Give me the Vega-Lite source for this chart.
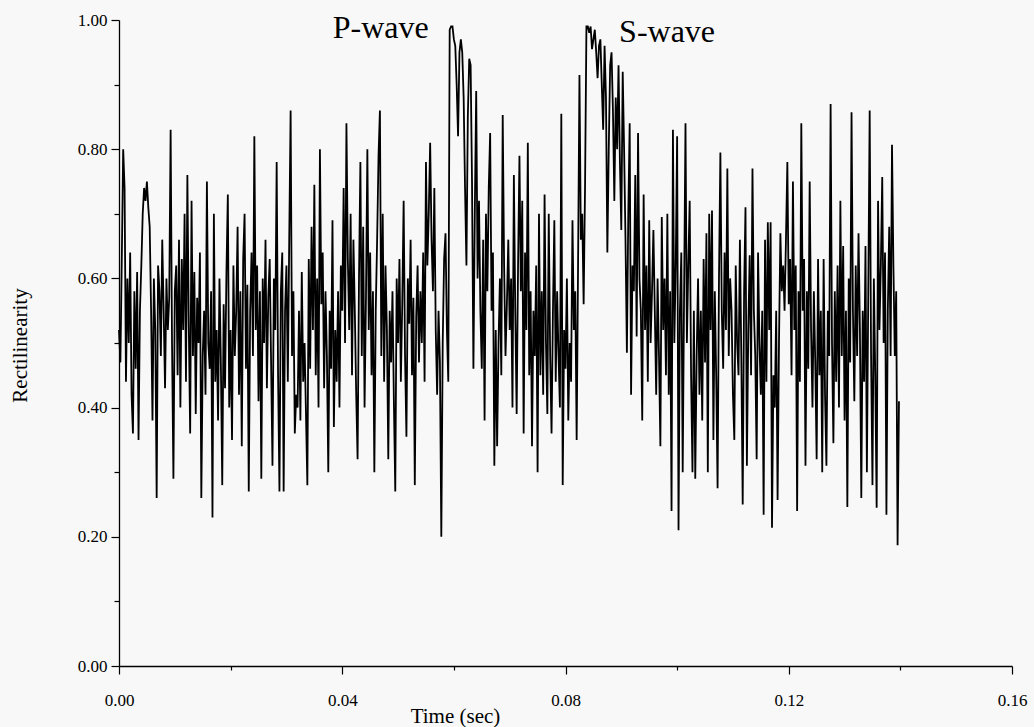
{
"$schema": "https://vega.github.io/schema/vega-lite/v6.json",
"width": 893, "height": 646,
"autosize": {"type": "none"},
"padding": {"left": 119, "top": 20, "right": 22, "bottom": 61},
"background": "#f7f8f7",
"config": {"view": {"stroke": null}, "font": "Liberation Serif",
 "axis": {"grid": false, "domainColor": "#000", "tickColor": "#000", "labelColor": "#000", "titleColor": "#000", "labelFont": "Liberation Serif", "titleFont": "Liberation Serif", "titleFontWeight": "normal", "domainWidth": 1.3, "tickWidth": 1.2}},
"layer": [
{"data": {"values": [
{"t":0,"r":0.52},{"t":0.00025,"r":0.47},{"t":0.0005,"r":0.63},{"t":0.00075,"r":0.8},
{"t":0.001,"r":0.74},{"t":0.00125,"r":0.44},{"t":0.0015,"r":0.6},{"t":0.00175,"r":0.5},
{"t":0.002,"r":0.64},{"t":0.00225,"r":0.42},{"t":0.0025,"r":0.36},{"t":0.00275,"r":0.58},
{"t":0.003,"r":0.46},{"t":0.00325,"r":0.61},{"t":0.0035,"r":0.35},{"t":0.00375,"r":0.55},
{"t":0.004,"r":0.62},{"t":0.00425,"r":0.7},{"t":0.0045,"r":0.74},{"t":0.00475,"r":0.72},
{"t":0.005,"r":0.75},{"t":0.00525,"r":0.71},{"t":0.0055,"r":0.68},{"t":0.00575,"r":0.55},
{"t":0.006,"r":0.38},{"t":0.00625,"r":0.6},{"t":0.0065,"r":0.52},{"t":0.00675,"r":0.26},
{"t":0.007,"r":0.62},{"t":0.00725,"r":0.58},{"t":0.0075,"r":0.48},{"t":0.00775,"r":0.66},
{"t":0.008,"r":0.55},{"t":0.00825,"r":0.43},{"t":0.0085,"r":0.6},{"t":0.00875,"r":0.52},
{"t":0.009,"r":0.57},{"t":0.00925,"r":0.83},{"t":0.0095,"r":0.5},{"t":0.00975,"r":0.29},
{"t":0.01,"r":0.58},{"t":0.01025,"r":0.62},{"t":0.0105,"r":0.45},{"t":0.01075,"r":0.66},
{"t":0.011,"r":0.4},{"t":0.01125,"r":0.63},{"t":0.0115,"r":0.52},{"t":0.01175,"r":0.7},
{"t":0.012,"r":0.44},{"t":0.01225,"r":0.76},{"t":0.0125,"r":0.53},{"t":0.01275,"r":0.36},
{"t":0.013,"r":0.72},{"t":0.01325,"r":0.48},{"t":0.0135,"r":0.61},{"t":0.01375,"r":0.39},
{"t":0.014,"r":0.57},{"t":0.01425,"r":0.5},{"t":0.0145,"r":0.64},{"t":0.01475,"r":0.26},
{"t":0.015,"r":0.48},{"t":0.01525,"r":0.55},{"t":0.0155,"r":0.42},{"t":0.01575,"r":0.75},
{"t":0.016,"r":0.5},{"t":0.01625,"r":0.46},{"t":0.0165,"r":0.58},{"t":0.01675,"r":0.23},
{"t":0.017,"r":0.7},{"t":0.01725,"r":0.44},{"t":0.0175,"r":0.52},{"t":0.01775,"r":0.38},
{"t":0.018,"r":0.6},{"t":0.01825,"r":0.47},{"t":0.0185,"r":0.28},{"t":0.01875,"r":0.56},
{"t":0.019,"r":0.43},{"t":0.01925,"r":0.61},{"t":0.0195,"r":0.73},{"t":0.01975,"r":0.4},
{"t":0.02,"r":0.52},{"t":0.02025,"r":0.35},{"t":0.0205,"r":0.62},{"t":0.02075,"r":0.48},
{"t":0.021,"r":0.55},{"t":0.02125,"r":0.68},{"t":0.0215,"r":0.42},{"t":0.02175,"r":0.58},
{"t":0.022,"r":0.34},{"t":0.02225,"r":0.63},{"t":0.0225,"r":0.7},{"t":0.02275,"r":0.46},
{"t":0.023,"r":0.59},{"t":0.02325,"r":0.27},{"t":0.0235,"r":0.55},{"t":0.02375,"r":0.64},
{"t":0.024,"r":0.48},{"t":0.02425,"r":0.82},{"t":0.0245,"r":0.52},{"t":0.02475,"r":0.62},
{"t":0.025,"r":0.41},{"t":0.02525,"r":0.58},{"t":0.0255,"r":0.29},{"t":0.02575,"r":0.6},
{"t":0.026,"r":0.5},{"t":0.02625,"r":0.66},{"t":0.0265,"r":0.43},{"t":0.02675,"r":0.57},
{"t":0.027,"r":0.63},{"t":0.02725,"r":0.47},{"t":0.0275,"r":0.31},{"t":0.02775,"r":0.6},
{"t":0.028,"r":0.52},{"t":0.02825,"r":0.78},{"t":0.0285,"r":0.45},{"t":0.02875,"r":0.27},
{"t":0.029,"r":0.58},{"t":0.02925,"r":0.64},{"t":0.0295,"r":0.27},{"t":0.02975,"r":0.55},
{"t":0.03,"r":0.62},{"t":0.03025,"r":0.44},{"t":0.0305,"r":0.66},{"t":0.03075,"r":0.86},
{"t":0.031,"r":0.48},{"t":0.03125,"r":0.58},{"t":0.0315,"r":0.36},{"t":0.03175,"r":0.42},
{"t":0.032,"r":0.4},{"t":0.03225,"r":0.55},{"t":0.0325,"r":0.38},{"t":0.03275,"r":0.61},
{"t":0.033,"r":0.44},{"t":0.03325,"r":0.5},{"t":0.0335,"r":0.39},{"t":0.03375,"r":0.28},
{"t":0.034,"r":0.63},{"t":0.03425,"r":0.46},{"t":0.0345,"r":0.68},{"t":0.03475,"r":0.52},
{"t":0.035,"r":0.745},{"t":0.03525,"r":0.45},{"t":0.0355,"r":0.6},{"t":0.03575,"r":0.4},
{"t":0.036,"r":0.8},{"t":0.03625,"r":0.56},{"t":0.0365,"r":0.64},{"t":0.03675,"r":0.43},
{"t":0.037,"r":0.58},{"t":0.03725,"r":0.48},{"t":0.0375,"r":0.3},{"t":0.03775,"r":0.55},
{"t":0.038,"r":0.46},{"t":0.03825,"r":0.69},{"t":0.0385,"r":0.37},{"t":0.03875,"r":0.52},
{"t":0.039,"r":0.44},{"t":0.03925,"r":0.58},{"t":0.0395,"r":0.4},{"t":0.03975,"r":0.62},
{"t":0.04,"r":0.55},{"t":0.04025,"r":0.74},{"t":0.0405,"r":0.5},{"t":0.04075,"r":0.84},
{"t":0.041,"r":0.63},{"t":0.04125,"r":0.52},{"t":0.0415,"r":0.7},{"t":0.04175,"r":0.45},
{"t":0.042,"r":0.66},{"t":0.04225,"r":0.55},{"t":0.0425,"r":0.42},{"t":0.04275,"r":0.32},
{"t":0.043,"r":0.6},{"t":0.04325,"r":0.78},{"t":0.0435,"r":0.48},{"t":0.04375,"r":0.68},
{"t":0.044,"r":0.4},{"t":0.04425,"r":0.57},{"t":0.0445,"r":0.8},{"t":0.04475,"r":0.52},
{"t":0.045,"r":0.64},{"t":0.04525,"r":0.45},{"t":0.0455,"r":0.58},{"t":0.04575,"r":0.3},
{"t":0.046,"r":0.55},{"t":0.04625,"r":0.66},{"t":0.0465,"r":0.79},{"t":0.04675,"r":0.86},
{"t":0.047,"r":0.48},{"t":0.04725,"r":0.7},{"t":0.0475,"r":0.44},{"t":0.04775,"r":0.62},
{"t":0.048,"r":0.52},{"t":0.04825,"r":0.32},{"t":0.0485,"r":0.55},{"t":0.04875,"r":0.47},
{"t":0.049,"r":0.58},{"t":0.04925,"r":0.41},{"t":0.0495,"r":0.27},{"t":0.04975,"r":0.6},
{"t":0.05,"r":0.5},{"t":0.05025,"r":0.63},{"t":0.0505,"r":0.44},{"t":0.05075,"r":0.56},
{"t":0.051,"r":0.72},{"t":0.05125,"r":0.48},{"t":0.0515,"r":0.355},{"t":0.05175,"r":0.6},
{"t":0.052,"r":0.53},{"t":0.05225,"r":0.66},{"t":0.0525,"r":0.45},{"t":0.05275,"r":0.57},
{"t":0.053,"r":0.28},{"t":0.05325,"r":0.54},{"t":0.0535,"r":0.62},{"t":0.05375,"r":0.47},
{"t":0.054,"r":0.58},{"t":0.05425,"r":0.5},{"t":0.0545,"r":0.64},{"t":0.05475,"r":0.44},
{"t":0.055,"r":0.78},{"t":0.05525,"r":0.62},{"t":0.0555,"r":0.7},{"t":0.05575,"r":0.81},
{"t":0.056,"r":0.66},{"t":0.05625,"r":0.58},{"t":0.0565,"r":0.74},{"t":0.05675,"r":0.52},
{"t":0.057,"r":0.42},{"t":0.05725,"r":0.55},{"t":0.0575,"r":0.47},{"t":0.05775,"r":0.2},
{"t":0.058,"r":0.5},{"t":0.05825,"r":0.63},{"t":0.0585,"r":0.67},{"t":0.05875,"r":0.52},
{"t":0.059,"r":0.44},{"t":0.05925,"r":0.985},{"t":0.0595,"r":0.99},{"t":0.05975,"r":0.99},
{"t":0.06,"r":0.97},{"t":0.06025,"r":0.96},{"t":0.0605,"r":0.9},{"t":0.06075,"r":0.82},
{"t":0.061,"r":0.95},{"t":0.06125,"r":0.97},{"t":0.0615,"r":0.95},{"t":0.06175,"r":0.88},
{"t":0.062,"r":0.74},{"t":0.06225,"r":0.62},{"t":0.0625,"r":0.85},{"t":0.06275,"r":0.94},
{"t":0.063,"r":0.93},{"t":0.06325,"r":0.75},{"t":0.0635,"r":0.46},{"t":0.06375,"r":0.7},
{"t":0.064,"r":0.89},{"t":0.06425,"r":0.6},{"t":0.0645,"r":0.72},{"t":0.06475,"r":0.55},
{"t":0.065,"r":0.46},{"t":0.06525,"r":0.66},{"t":0.0655,"r":0.38},{"t":0.06575,"r":0.7},
{"t":0.066,"r":0.58},{"t":0.06625,"r":0.74},{"t":0.0665,"r":0.825},{"t":0.06675,"r":0.55},
{"t":0.067,"r":0.64},{"t":0.06725,"r":0.31},{"t":0.0675,"r":0.52},{"t":0.06775,"r":0.34},
{"t":0.068,"r":0.5},{"t":0.06825,"r":0.6},{"t":0.0685,"r":0.45},{"t":0.06875,"r":0.853},
{"t":0.069,"r":0.62},{"t":0.06925,"r":0.48},{"t":0.0695,"r":0.56},{"t":0.06975,"r":0.66},
{"t":0.07,"r":0.52},{"t":0.07025,"r":0.6},{"t":0.0705,"r":0.4},{"t":0.07075,"r":0.76},
{"t":0.071,"r":0.55},{"t":0.07125,"r":0.39},{"t":0.0715,"r":0.62},{"t":0.07175,"r":0.79},
{"t":0.072,"r":0.58},{"t":0.07225,"r":0.72},{"t":0.0725,"r":0.36},{"t":0.07275,"r":0.64},
{"t":0.073,"r":0.52},{"t":0.07325,"r":0.81},{"t":0.0735,"r":0.45},{"t":0.07375,"r":0.58},
{"t":0.074,"r":0.34},{"t":0.07425,"r":0.55},{"t":0.0745,"r":0.48},{"t":0.07475,"r":0.62},
{"t":0.075,"r":0.3},{"t":0.07525,"r":0.7},{"t":0.0755,"r":0.45},{"t":0.07575,"r":0.58},
{"t":0.076,"r":0.42},{"t":0.07625,"r":0.73},{"t":0.0765,"r":0.5},{"t":0.07675,"r":0.39},
{"t":0.077,"r":0.7},{"t":0.07725,"r":0.48},{"t":0.0775,"r":0.36},{"t":0.07775,"r":0.55},
{"t":0.078,"r":0.69},{"t":0.07825,"r":0.44},{"t":0.0785,"r":0.58},{"t":0.07875,"r":0.48},
{"t":0.079,"r":0.4},{"t":0.07925,"r":0.855},{"t":0.0795,"r":0.28},{"t":0.07975,"r":0.52},
{"t":0.08,"r":0.46},{"t":0.08025,"r":0.6},{"t":0.0805,"r":0.38},{"t":0.08075,"r":0.5},
{"t":0.081,"r":0.44},{"t":0.08125,"r":0.69},{"t":0.0815,"r":0.52},{"t":0.08175,"r":0.58},
{"t":0.082,"r":0.35},{"t":0.08225,"r":0.62},{"t":0.0825,"r":0.915},{"t":0.08275,"r":0.66},
{"t":0.083,"r":0.7},{"t":0.08325,"r":0.56},{"t":0.0835,"r":0.74},{"t":0.08375,"r":0.99},
{"t":0.084,"r":0.99},{"t":0.08425,"r":0.98},{"t":0.0845,"r":0.99},{"t":0.08475,"r":0.955},
{"t":0.085,"r":0.97},{"t":0.08525,"r":0.985},{"t":0.0855,"r":0.95},{"t":0.08575,"r":0.91},
{"t":0.086,"r":0.96},{"t":0.08625,"r":0.97},{"t":0.0865,"r":0.9},{"t":0.08675,"r":0.83},
{"t":0.087,"r":0.96},{"t":0.08725,"r":0.88},{"t":0.0875,"r":0.64},{"t":0.08775,"r":0.8},
{"t":0.088,"r":0.93},{"t":0.08825,"r":0.95},{"t":0.0885,"r":0.86},{"t":0.08875,"r":0.72},
{"t":0.089,"r":0.88},{"t":0.08925,"r":0.8},{"t":0.0895,"r":0.93},{"t":0.08975,"r":0.78},
{"t":0.09,"r":0.675},{"t":0.09025,"r":0.92},{"t":0.0905,"r":0.8},{"t":0.09075,"r":0.66},
{"t":0.091,"r":0.485},{"t":0.09125,"r":0.7},{"t":0.0915,"r":0.84},{"t":0.09175,"r":0.42},
{"t":0.092,"r":0.62},{"t":0.09225,"r":0.58},{"t":0.0925,"r":0.76},{"t":0.09275,"r":0.51},
{"t":0.093,"r":0.825},{"t":0.09325,"r":0.6},{"t":0.0935,"r":0.55},{"t":0.09375,"r":0.38},
{"t":0.094,"r":0.73},{"t":0.09425,"r":0.52},{"t":0.0945,"r":0.62},{"t":0.09475,"r":0.44},
{"t":0.095,"r":0.69},{"t":0.09525,"r":0.5},{"t":0.0955,"r":0.58},{"t":0.09575,"r":0.675},
{"t":0.096,"r":0.55},{"t":0.09625,"r":0.42},{"t":0.0965,"r":0.6},{"t":0.09675,"r":0.48},
{"t":0.097,"r":0.34},{"t":0.09725,"r":0.695},{"t":0.0975,"r":0.52},{"t":0.09775,"r":0.6},
{"t":0.098,"r":0.45},{"t":0.09825,"r":0.7},{"t":0.0985,"r":0.42},{"t":0.09875,"r":0.58},
{"t":0.099,"r":0.24},{"t":0.09925,"r":0.83},{"t":0.0995,"r":0.5},{"t":0.09975,"r":0.62},
{"t":0.1,"r":0.82},{"t":0.10025,"r":0.21},{"t":0.1005,"r":0.55},{"t":0.10075,"r":0.64},
{"t":0.101,"r":0.3},{"t":0.10125,"r":0.58},{"t":0.1015,"r":0.84},{"t":0.10175,"r":0.5},
{"t":0.102,"r":0.62},{"t":0.10225,"r":0.72},{"t":0.1025,"r":0.45},{"t":0.10275,"r":0.3},
{"t":0.103,"r":0.55},{"t":0.10325,"r":0.29},{"t":0.1035,"r":0.48},{"t":0.10375,"r":0.6},
{"t":0.104,"r":0.42},{"t":0.10425,"r":0.55},{"t":0.1045,"r":0.38},{"t":0.10475,"r":0.63},
{"t":0.105,"r":0.47},{"t":0.10525,"r":0.67},{"t":0.1055,"r":0.3},{"t":0.10575,"r":0.7},
{"t":0.106,"r":0.52},{"t":0.10625,"r":0.705},{"t":0.1065,"r":0.35},{"t":0.10675,"r":0.58},
{"t":0.107,"r":0.45},{"t":0.10725,"r":0.275},{"t":0.1075,"r":0.6},{"t":0.10775,"r":0.795},
{"t":0.108,"r":0.55},{"t":0.10825,"r":0.46},{"t":0.1085,"r":0.64},{"t":0.10875,"r":0.52},
{"t":0.109,"r":0.77},{"t":0.10925,"r":0.48},{"t":0.1095,"r":0.6},{"t":0.10975,"r":0.55},
{"t":0.11,"r":0.42},{"t":0.11025,"r":0.35},{"t":0.1105,"r":0.62},{"t":0.11075,"r":0.5},
{"t":0.111,"r":0.45},{"t":0.11125,"r":0.66},{"t":0.1115,"r":0.48},{"t":0.11175,"r":0.25},
{"t":0.112,"r":0.58},{"t":0.11225,"r":0.71},{"t":0.1125,"r":0.31},{"t":0.11275,"r":0.52},
{"t":0.113,"r":0.636},{"t":0.11325,"r":0.45},{"t":0.1135,"r":0.77},{"t":0.11375,"r":0.55},
{"t":0.114,"r":0.48},{"t":0.11425,"r":0.32},{"t":0.1145,"r":0.64},{"t":0.11475,"r":0.5},
{"t":0.115,"r":0.42},{"t":0.11525,"r":0.55},{"t":0.1155,"r":0.234},{"t":0.11575,"r":0.66},
{"t":0.116,"r":0.44},{"t":0.11625,"r":0.687},{"t":0.1165,"r":0.52},{"t":0.11675,"r":0.687},
{"t":0.117,"r":0.214},{"t":0.11725,"r":0.45},{"t":0.1175,"r":0.4},{"t":0.11775,"r":0.55},
{"t":0.118,"r":0.257},{"t":0.11825,"r":0.5},{"t":0.1185,"r":0.67},{"t":0.11875,"r":0.58},
{"t":0.119,"r":0.62},{"t":0.11925,"r":0.55},{"t":0.1195,"r":0.66},{"t":0.11975,"r":0.78},
{"t":0.12,"r":0.56},{"t":0.12025,"r":0.63},{"t":0.1205,"r":0.45},{"t":0.12075,"r":0.75},
{"t":0.121,"r":0.52},{"t":0.12125,"r":0.62},{"t":0.1215,"r":0.24},{"t":0.12175,"r":0.58},
{"t":0.122,"r":0.44},{"t":0.12225,"r":0.84},{"t":0.1225,"r":0.55},{"t":0.12275,"r":0.63},
{"t":0.123,"r":0.31},{"t":0.12325,"r":0.58},{"t":0.1235,"r":0.46},{"t":0.12375,"r":0.75},
{"t":0.124,"r":0.52},{"t":0.12425,"r":0.4},{"t":0.1245,"r":0.58},{"t":0.12475,"r":0.47},
{"t":0.125,"r":0.32},{"t":0.12525,"r":0.63},{"t":0.1255,"r":0.45},{"t":0.12575,"r":0.55},
{"t":0.126,"r":0.3},{"t":0.12625,"r":0.63},{"t":0.1265,"r":0.42},{"t":0.12675,"r":0.31},
{"t":0.127,"r":0.55},{"t":0.12725,"r":0.48},{"t":0.1275,"r":0.87},{"t":0.12775,"r":0.5},
{"t":0.128,"r":0.345},{"t":0.12825,"r":0.58},{"t":0.1285,"r":0.44},{"t":0.12875,"r":0.62},
{"t":0.129,"r":0.4},{"t":0.12925,"r":0.72},{"t":0.1295,"r":0.48},{"t":0.12975,"r":0.65},
{"t":0.13,"r":0.38},{"t":0.13025,"r":0.55},{"t":0.1305,"r":0.246},{"t":0.13075,"r":0.6},
{"t":0.131,"r":0.47},{"t":0.13125,"r":0.857},{"t":0.1315,"r":0.55},{"t":0.13175,"r":0.41},
{"t":0.132,"r":0.62},{"t":0.13225,"r":0.48},{"t":0.1325,"r":0.67},{"t":0.13275,"r":0.52},
{"t":0.133,"r":0.26},{"t":0.13325,"r":0.55},{"t":0.1335,"r":0.44},{"t":0.13375,"r":0.65},
{"t":0.134,"r":0.3},{"t":0.13425,"r":0.58},{"t":0.1345,"r":0.86},{"t":0.13475,"r":0.48},
{"t":0.135,"r":0.28},{"t":0.13525,"r":0.6},{"t":0.1355,"r":0.45},{"t":0.13575,"r":0.245},
{"t":0.136,"r":0.72},{"t":0.13625,"r":0.52},{"t":0.1365,"r":0.62},{"t":0.13675,"r":0.757},
{"t":0.137,"r":0.5},{"t":0.13725,"r":0.64},{"t":0.1375,"r":0.234},{"t":0.13775,"r":0.55},
{"t":0.138,"r":0.68},{"t":0.13825,"r":0.48},{"t":0.1385,"r":0.807},{"t":0.13875,"r":0.62},
{"t":0.139,"r":0.48},{"t":0.13925,"r":0.58},{"t":0.1395,"r":0.187},{"t":0.13975,"r":0.41}
]},
 "mark": {"type": "line", "color": "#000", "strokeWidth": 1.8},
 "encoding": {
  "x": {"field": "t", "type": "quantitative", "scale": {"domain": [0, 0.16], "nice": false, "zero": false},
   "axis": {"orient": "bottom", "values": [0, 0.04, 0.08, 0.12, 0.16], "format": ".2f", "tickSize": 8, "labelFontSize": 17, "labelPadding": 18, "labelFlush": false, "title": "Time (sec)", "titleFontSize": 21, "titleX": 336, "titleY": 50, "titleBaseline": "middle", "titleAlign": "center"}},
  "y": {"field": "r", "type": "quantitative", "scale": {"domain": [0, 1], "nice": false},
   "axis": {"orient": "left", "values": [0, 0.2, 0.4, 0.6, 0.8, 1], "format": ".2f", "tickSize": 8, "labelFontSize": 17, "labelPadding": 4, "labelFlush": false, "title": "Rectilinearity", "titleFontSize": 21, "titleX": -99, "titleY": 325, "titleAngle": -90, "titleAlign": "center", "titleBaseline": "middle"}}
 }},
{"data": {"values": [{"t": 0.0469, "r": 0.987, "label": "P-wave"}, {"t": 0.0982, "r": 0.982, "label": "S-wave"}]},
 "mark": {"type": "text", "font": "Liberation Serif", "fontSize": 32, "baseline": "middle", "align": "center", "color": "#000"},
 "encoding": {
  "x": {"field": "t", "type": "quantitative", "axis": {"orient": "bottom", "values": [0.02, 0.06, 0.1, 0.14], "tickSize": 4, "labels": false, "domain": false, "title": null}},
  "y": {"field": "r", "type": "quantitative", "axis": {"orient": "left", "values": [0.1, 0.3, 0.5, 0.7, 0.9], "tickSize": 5, "labels": false, "domain": false, "title": null}},
  "text": {"field": "label"}
 }}
],
"resolve": {"axis": {"x": "independent", "y": "independent"}}
}
